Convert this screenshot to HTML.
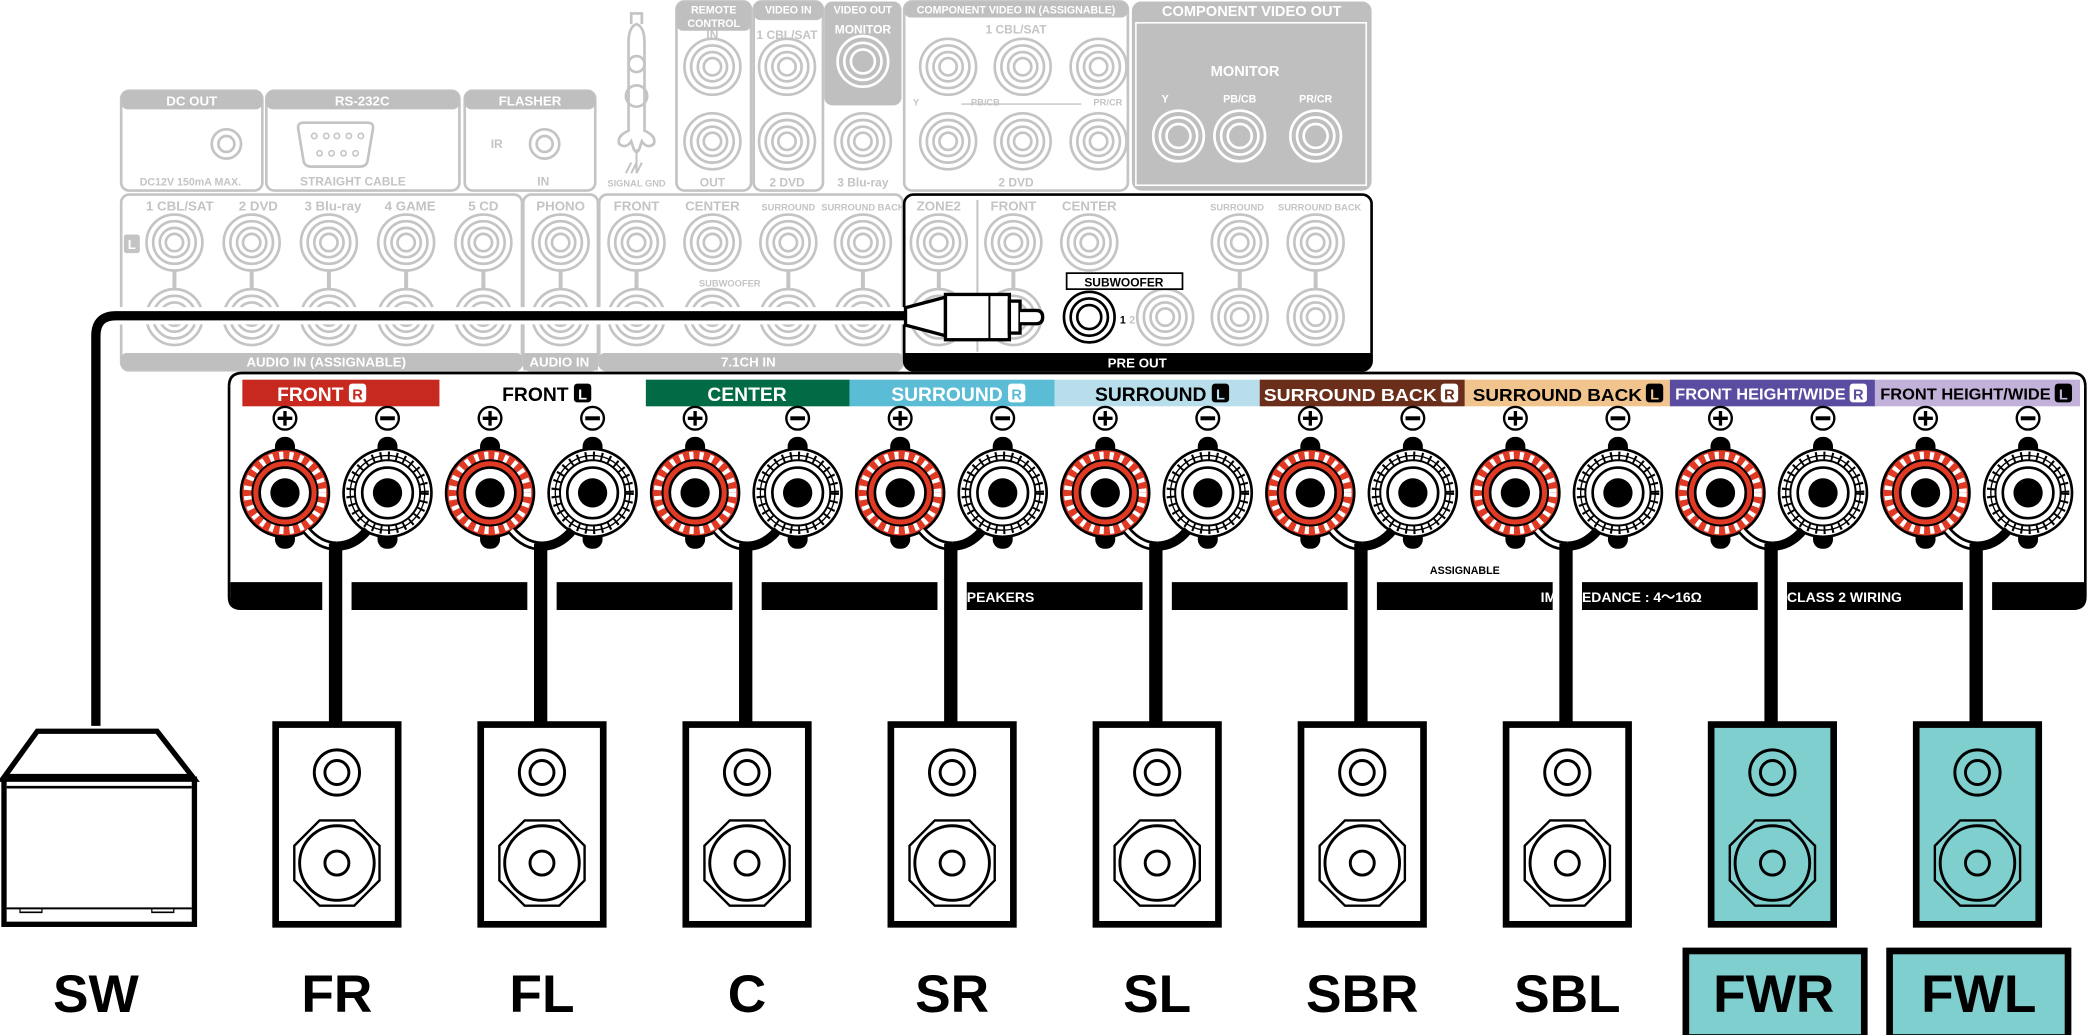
<!DOCTYPE html>
<html><head><meta charset="utf-8"><style>
html,body{margin:0;padding:0;background:#fff;}
svg{display:block;}
text{font-family:"Liberation Sans",Arial,sans-serif;font-weight:bold;}
</style></head><body>
<svg width="2088" height="1035" viewBox="0 0 1568 777" xmlns="http://www.w3.org/2000/svg">
<defs>
<g id="jk" fill="none" stroke="#c4c4c4" stroke-width="2"><circle r="21"/><circle r="16"/><circle r="11"/><circle r="6.5"/></g>
<g id="jkw" fill="none" stroke="#fff" stroke-width="2"><circle r="19"/><circle r="14"/><circle r="9"/></g>
<g id="tp">
 <rect x="-7.5" y="-42" width="15" height="20" rx="7" fill="#000"/>
 <rect x="-7.5" y="22" width="15" height="20" rx="7" fill="#000"/>
 <circle r="33" fill="#e03a25" stroke="#000" stroke-width="2"/>
 <circle r="28" fill="none" stroke="#fff" stroke-width="6" stroke-dasharray="3 4.5"/>
 <circle r="24.5" fill="none" stroke="#000" stroke-width="1.5"/>
 <circle r="19" fill="#fff" stroke="#000" stroke-width="2"/>
 <circle r="11" fill="#000"/>
 <circle cy="-56" r="8.5" fill="#fff" stroke="#000" stroke-width="1.8"/>
 <path d="M-5.5 -56H5.5M0 -61.5V-50.5" stroke="#000" stroke-width="2.5"/>
</g>
<g id="tn">
 <rect x="-7.5" y="-42" width="15" height="20" rx="7" fill="#000"/>
 <rect x="-7.5" y="22" width="15" height="20" rx="7" fill="#000"/>
 <circle r="33" fill="#fff" stroke="#000" stroke-width="2"/>
 <circle r="28" fill="none" stroke="#000" stroke-width="6" stroke-dasharray="1.5 4.5"/>
 <circle r="28" fill="none" stroke="#000" stroke-width="1"/>
 <circle r="24.5" fill="none" stroke="#000" stroke-width="1.5"/>
 <circle r="19" fill="#fff" stroke="#000" stroke-width="2"/>
 <circle r="11" fill="#000"/>
 <circle cy="-56" r="8.5" fill="#fff" stroke="#000" stroke-width="1.8"/>
 <path d="M-5.5 -56H5.5" stroke="#000" stroke-width="3"/>
</g>
<g id="pair">
 <use href="#tp" x="214" y="370"/>
 <use href="#tn" x="291" y="370"/>
 <path d="M230 398 Q240 410 253 410" fill="none" stroke="#000" stroke-width="7"/>
 <path d="M230 398 Q240 410 253 410" fill="none" stroke="#fff" stroke-width="3"/>
 <path d="M276 398 Q266 410 253 410" fill="none" stroke="#000" stroke-width="7"/>
 <rect x="247" y="408" width="10" height="136" fill="#000"/>
</g>
<g id="spk">
 <rect x="207" y="544" width="92" height="150" fill="#fff" stroke="#000" stroke-width="5"/>
 <circle cx="253" cy="580" r="17" fill="none" stroke="#000" stroke-width="2.2"/>
 <circle cx="253" cy="580" r="9" fill="none" stroke="#000" stroke-width="2.2"/>
 <path d="M240 616 H266 L285 635 V661 L266 680 H240 L221 661 V635 Z" fill="none" stroke="#000" stroke-width="1.8"/>
 <circle cx="253" cy="648" r="28" fill="none" stroke="#000" stroke-width="2.2"/>
 <circle cx="253" cy="648" r="9" fill="none" stroke="#000" stroke-width="2.2"/>
</g>
<g id="spkt">
 <rect x="207" y="544" width="92" height="150" fill="#80cfcf" stroke="#000" stroke-width="5"/>
 <circle cx="253" cy="580" r="17" fill="none" stroke="#000" stroke-width="2.2"/>
 <circle cx="253" cy="580" r="9" fill="none" stroke="#000" stroke-width="2.2"/>
 <path d="M240 616 H266 L285 635 V661 L266 680 H240 L221 661 V635 Z" fill="none" stroke="#000" stroke-width="1.8"/>
 <circle cx="253" cy="648" r="28" fill="none" stroke="#000" stroke-width="2.2"/>
 <circle cx="253" cy="648" r="9" fill="none" stroke="#000" stroke-width="2.2"/>
</g>
</defs>

<g fill="none" stroke="#c4c4c4" stroke-width="2">
 <rect x="91" y="68" width="106" height="75" rx="6"/>
 <rect x="200" y="68" width="145" height="75" rx="6"/>
 <rect x="349" y="68" width="98" height="75" rx="6"/>
 <rect x="508" y="1" width="56" height="142" rx="6"/>
 <rect x="566" y="1" width="52" height="142" rx="6"/>
 <rect x="679" y="1" width="168" height="142" rx="6"/>
 <rect x="91" y="146" width="301" height="132" rx="6"/>
 <rect x="393" y="146" width="56" height="132" rx="6"/>
 <rect x="450" y="146" width="228" height="132" rx="6"/>
</g>
<g fill="#bfbfbf">
 <rect x="91" y="68" width="106" height="14" rx="5"/>
 <rect x="200" y="68" width="145" height="14" rx="5"/>
 <rect x="349" y="68" width="98" height="14" rx="5"/>
 <rect x="508" y="1" width="56" height="22" rx="5"/>
 <rect x="566" y="1" width="52" height="14" rx="5"/>
 <rect x="619" y="1" width="58" height="78" rx="6"/>
 <rect x="679" y="1" width="168" height="12" rx="5"/>
 <rect x="850" y="1" width="180" height="142" rx="7"/>
 <rect x="91" y="265" width="301" height="13" rx="4"/>
 <rect x="393" y="265" width="56" height="13"/>
 <rect x="450" y="265" width="228" height="13" rx="4"/>
</g>
<rect x="853" y="17" width="173" height="122" fill="none" stroke="#fff" stroke-width="1.2"/>
<g fill="#fff" font-size="10" text-anchor="middle">
 <text x="144" y="79">DC OUT</text><text x="272" y="79">RS-232C</text><text x="398" y="79">FLASHER</text>
 <text x="536" y="10" font-size="8">REMOTE</text><text x="536" y="20" font-size="8">CONTROL</text>
 <text x="592" y="10" font-size="8">VIDEO IN</text>
 <text x="648" y="10" font-size="8">VIDEO OUT</text><text x="648" y="25" font-size="9">MONITOR</text>
 <text x="763" y="10" font-size="8">COMPONENT VIDEO IN (ASSIGNABLE)</text>
 <text x="940" y="12" font-size="11">COMPONENT VIDEO OUT</text>
 <text x="935" y="57" font-size="11">MONITOR</text>
 <text x="875" y="77" font-size="8">Y</text><text x="931" y="77" font-size="8">PB/CB</text><text x="988" y="77" font-size="8">PR/CR</text>
 <text x="245" y="275" font-size="10">AUDIO IN (ASSIGNABLE)</text><text x="420" y="275" font-size="10">AUDIO IN</text><text x="562" y="275" font-size="10">7.1CH IN</text>
</g>
<g fill="#c4c4c4" font-size="9" text-anchor="middle" font-weight="normal">
 <text x="143" y="139" font-size="8">DC12V 150mA MAX.</text><text x="265" y="139" font-size="9">STRAIGHT CABLE</text>
 <text x="373" y="111">IR</text><text x="408" y="139">IN</text><text x="478" y="140" font-size="7">SIGNAL GND</text>
 <text x="535" y="29">IN</text><text x="535" y="140">OUT</text><text x="591" y="29">1 CBL/SAT</text>
 <text x="591" y="140">2 DVD</text><text x="648" y="140">3 Blu-ray</text>
 <text x="763" y="25">1 CBL/SAT</text><text x="763" y="140">2 DVD</text>
 <text x="688" y="79" font-size="7">Y</text><text x="740" y="79" font-size="7">PB/CB</text><text x="832" y="79" font-size="7">PR/CR</text>
 <text x="135" y="158" font-size="10">1 CBL/SAT</text><text x="194" y="158" font-size="10">2 DVD</text><text x="250" y="158" font-size="10">3 Blu-ray</text><text x="308" y="158" font-size="10">4 GAME</text><text x="363" y="158" font-size="10">5 CD</text>
 <text x="421" y="158" font-size="10">PHONO</text><text x="478" y="158" font-size="10">FRONT</text><text x="535" y="158" font-size="10">CENTER</text><text x="592" y="158" font-size="7">SURROUND</text><text x="648" y="158" font-size="7">SURROUND BACK</text>
 <text x="548" y="215" font-size="7">SUBWOOFER</text>
 <text x="705" y="158" font-size="10">ZONE2</text><text x="761" y="158" font-size="10">FRONT</text><text x="818" y="158" font-size="10">CENTER</text><text x="929" y="158" font-size="7">SURROUND</text><text x="991" y="158" font-size="7">SURROUND BACK</text>
</g>
<rect x="93" y="176" width="12" height="14" rx="2" fill="#c4c4c4"/><text x="99" y="187" fill="#fff" font-size="10" text-anchor="middle">L</text>
<path d="M722 78 H812" stroke="#c4c4c4" stroke-width="1"/>
<circle cx="170" cy="108" r="11" fill="none" stroke="#c4c4c4" stroke-width="2"/><circle cx="170" cy="108" r="6" fill="none" stroke="#c4c4c4" stroke-width="2"/>
<circle cx="409" cy="108" r="11" fill="none" stroke="#c4c4c4" stroke-width="2"/><circle cx="409" cy="108" r="6" fill="none" stroke="#c4c4c4" stroke-width="2"/>
<path d="M228 92 H276 Q281 92 280 97 L276 121 Q275 125 270 125 H234 Q229 125 228 121 L224 97 Q223 92 228 92Z" fill="none" stroke="#c4c4c4" stroke-width="2"/>
<g fill="none" stroke="#c4c4c4" stroke-width="1.2"><circle cx="236" cy="102" r="2"/><circle cx="245" cy="102" r="2"/><circle cx="253" cy="102" r="2"/><circle cx="262" cy="102" r="2"/><circle cx="271" cy="102" r="2"/><circle cx="240" cy="115" r="2"/><circle cx="249" cy="115" r="2"/><circle cx="258" cy="115" r="2"/><circle cx="267" cy="115" r="2"/></g>
<path d="M472 32 V98 Q463 102 465 108 Q470 112 474 106 L476 112 Q478 116 480 112 L482 106 Q486 112 491 108 Q493 102 484 98 V32 Q484 20 478 18 Q472 20 472 32Z M474 18 V10 H482 V18" fill="none" stroke="#c4c4c4" stroke-width="2"/>
<circle cx="478" cy="72" r="8" fill="none" stroke="#c4c4c4" stroke-width="2"/><circle cx="478" cy="48" r="6" fill="none" stroke="#c4c4c4" stroke-width="2"/>
<path d="M478 112 V130 M470 130 L474 122 M474 130 L478 122 M478 130 L482 122" stroke="#c4c4c4" stroke-width="1.5"/>
<use href="#jk" x="535" y="50"/><use href="#jk" x="535" y="106"/>
<use href="#jk" x="591" y="50"/><use href="#jk" x="591" y="106"/><use href="#jk" x="648" y="106"/>
<use href="#jkw" x="648" y="46"/>
<use href="#jk" x="712" y="50"/><use href="#jk" x="768" y="50"/><use href="#jk" x="825" y="50"/>
<use href="#jk" x="712" y="106"/><use href="#jk" x="768" y="106"/><use href="#jk" x="825" y="106"/>
<use href="#jkw" x="885" y="102"/><use href="#jkw" x="931" y="102"/><use href="#jkw" x="988" y="102"/>
<g stroke="#c4c4c4" stroke-width="3">
 <path d="M131 203V217M189 203V217M247 203V217M305 203V217M363 203V217M421 203V217M478 203V217M592 203V217M648 203V217M705 203V217M761 203V217M931 203V217M988 203V217"/>
</g>
<use href="#jk" x="131" y="182"/><use href="#jk" x="189" y="182"/><use href="#jk" x="247" y="182"/><use href="#jk" x="305" y="182"/><use href="#jk" x="363" y="182"/>
<use href="#jk" x="421" y="182"/><use href="#jk" x="478" y="182"/><use href="#jk" x="535" y="182"/><use href="#jk" x="592" y="182"/><use href="#jk" x="648" y="182"/>
<use href="#jk" x="131" y="238"/><use href="#jk" x="189" y="238"/><use href="#jk" x="247" y="238"/><use href="#jk" x="305" y="238"/><use href="#jk" x="363" y="238"/>
<use href="#jk" x="421" y="238"/><use href="#jk" x="478" y="238"/><use href="#jk" x="535" y="238"/><use href="#jk" x="592" y="238"/><use href="#jk" x="648" y="238"/>
<use href="#jk" x="705" y="182"/><use href="#jk" x="761" y="182"/><use href="#jk" x="818" y="182"/><use href="#jk" x="931" y="182"/><use href="#jk" x="988" y="182"/>
<use href="#jk" x="705" y="238"/><use href="#jk" x="761" y="238"/><use href="#jk" x="875" y="238"/><use href="#jk" x="931" y="238"/><use href="#jk" x="988" y="238"/>
<path d="M734 150 V264" stroke="#c4c4c4" stroke-width="1.5"/>
<rect x="679" y="146" width="351" height="132" rx="7" fill="none" stroke="#000" stroke-width="2"/>
<path d="M679 265 H1030 V271 Q1030 278 1023 278 H686 Q679 278 679 271Z" fill="#000"/>
<text x="854" y="276" fill="#fff" font-size="10" text-anchor="middle">PRE OUT</text>
<rect x="801" y="205" width="87" height="12" fill="#fff" stroke="#000" stroke-width="1.3"/>
<text x="844" y="215" font-size="9" text-anchor="middle">SUBWOOFER</text>
<text x="841" y="243" font-size="8">1</text><text x="848" y="243" font-size="8" fill="#c4c4c4">2</text>
<circle cx="818" cy="238" r="19" fill="#fff" stroke="#000" stroke-width="2"/><circle cx="818" cy="238" r="14" fill="none" stroke="#000" stroke-width="2"/><circle cx="818" cy="238" r="9" fill="none" stroke="#000" stroke-width="2"/>
<path d="M72 545 V252 Q72 237 87 237 H682" fill="none" stroke="#fff" stroke-width="13"/>
<path d="M72 545 V252 Q72 237 87 237 H682" fill="none" stroke="#000" stroke-width="7"/>
<path d="M680 231 L710 223 V252 L680 244Z" fill="#fff" stroke="#000" stroke-width="2.5"/>
<rect x="710" y="221" width="48" height="34" fill="#fff" stroke="#000" stroke-width="2.5"/>
<path d="M743 221V255" stroke="#000" stroke-width="1.5"/>
<rect x="758" y="226" width="8" height="24" fill="#fff" stroke="#000" stroke-width="2.5"/>
<path d="M766 233 H778 Q783 233 783 238 Q783 243 778 243 H766" fill="#fff" stroke="#000" stroke-width="2.5"/>

<path d="M172 290 Q172 280 182 280 H1556 Q1566 280 1566 290" fill="none" stroke="#000" stroke-width="2"/>
<path d="M172 290 V448 Q172 457 181 457 H1557 Q1566 457 1566 448 V290" fill="none" stroke="#000" stroke-width="2"/>
<path d="M173 437 H1566 V448 Q1566 457 1557 457 H181 Q173 457 173 448Z" fill="#000"/>
<g fill="#fff">
 <rect x="242" y="436" width="22" height="22"/><rect x="396" y="436" width="22" height="22"/><rect x="550" y="436" width="22" height="22"/>
 <rect x="704" y="436" width="22" height="22"/><rect x="858" y="436" width="22" height="22"/><rect x="1012" y="436" width="22" height="22"/>
 <rect x="1166" y="436" width="22" height="22"/><rect x="1320" y="436" width="22" height="22"/><rect x="1474" y="436" width="22" height="22"/>
</g>
<g fill="#fff" font-size="10.5">
 <text x="726" y="452">PEAKERS</text><text x="1157" y="452">IM</text><text x="1188" y="452">EDANCE : 4～16Ω</text><text x="1342" y="452">CLASS 2 WIRING</text>
</g>
<text x="1100" y="431" font-size="8" text-anchor="middle">ASSIGNABLE</text>
<rect x="182" y="285" width="148" height="20" fill="#c8291f"/>
<rect x="485" y="285" width="153" height="20" fill="#006b45"/>
<rect x="638" y="285" width="154" height="20" fill="#5bbcd6"/>
<rect x="792" y="285" width="154" height="20" fill="#b8deeb"/>
<rect x="946" y="285" width="154" height="20" fill="#6b2e1a"/>
<rect x="1100" y="285" width="154" height="20" fill="#f0c48c"/>
<rect x="1254" y="285" width="154" height="20" fill="#5a4ca0"/>
<rect x="1408" y="285" width="154" height="20" fill="#c2b1d8"/>
<text x="561" y="301" fill="#fff" text-anchor="middle" font-size="14.5">CENTER</text>
<g font-size="14.5" text-anchor="end">
 <text x="258" y="301" fill="#fff">FRONT</text>
 <text x="427" y="301">FRONT</text>
 <text x="753" y="301" fill="#fff">SURROUND</text>
 <text x="906" y="301">SURROUND</text>
 <text x="1079" y="301" fill="#fff" font-size="13.5" textLength="130" lengthAdjust="spacingAndGlyphs">SURROUND BACK</text>
 <text x="1233" y="301" font-size="13.5" textLength="127" lengthAdjust="spacingAndGlyphs">SURROUND BACK</text>
 <text x="1386" y="300" fill="#fff" font-size="12" textLength="128" lengthAdjust="spacingAndGlyphs">FRONT HEIGHT/WIDE</text>
 <text x="1540" y="300" font-size="12" textLength="128" lengthAdjust="spacingAndGlyphs">FRONT HEIGHT/WIDE</text>
</g>
<g>
 <rect x="262" y="288" width="13" height="14" rx="2.5" fill="#fff"/><text x="268.5" y="300" font-size="11" fill="#c8291f" text-anchor="middle">R</text>
 <rect x="431" y="288" width="13" height="14" rx="2.5" fill="#000"/><text x="437.5" y="300" font-size="11" fill="#fff" text-anchor="middle">L</text>
 <rect x="757" y="288" width="13" height="14" rx="2.5" fill="#fff"/><text x="763.5" y="300" font-size="11" fill="#5bbcd6" text-anchor="middle">R</text>
 <rect x="910" y="288" width="13" height="14" rx="2.5" fill="#000"/><text x="916.5" y="300" font-size="11" fill="#b8deeb" text-anchor="middle">L</text>
 <rect x="1082" y="288" width="13" height="14" rx="2.5" fill="#fff"/><text x="1088.5" y="300" font-size="11" fill="#6b2e1a" text-anchor="middle">R</text>
 <rect x="1236" y="288" width="13" height="14" rx="2.5" fill="#000"/><text x="1242.5" y="300" font-size="11" fill="#f0c48c" text-anchor="middle">L</text>
 <rect x="1389" y="288" width="13" height="14" rx="2.5" fill="#fff"/><text x="1395.5" y="300" font-size="11" fill="#5a4ca0" text-anchor="middle">R</text>
 <rect x="1543" y="288" width="13" height="14" rx="2.5" fill="#000"/><text x="1549.5" y="300" font-size="11" fill="#c2b1d8" text-anchor="middle">L</text>
</g>
<use href="#pair"/><use href="#pair" x="154"/><use href="#pair" x="308"/><use href="#pair" x="462"/><use href="#pair" x="616"/>
<use href="#pair" x="770"/><use href="#pair" x="924"/><use href="#pair" x="1078"/><use href="#pair" x="1232"/>
<use href="#spk"/><use href="#spk" x="154"/><use href="#spk" x="308"/><use href="#spk" x="462"/><use href="#spk" x="616"/>
<use href="#spk" x="770"/><use href="#spk" x="924"/><use href="#spkt" x="1078"/><use href="#spkt" x="1232"/>
<path d="M28 549 H118 L146 585 H2 Z" fill="#fff" stroke="#000" stroke-width="4"/>
<rect x="3" y="585" width="143" height="109" fill="#fff" stroke="#000" stroke-width="4"/>
<path d="M6 582 H143" stroke="#000" stroke-width="2"/>
<path d="M5 591 H144" stroke="#000" stroke-width="2"/>
<path d="M5 682 H144" stroke="#000" stroke-width="1.5"/>
<path d="M20 682 V685 H42 V682 M152 682 V685 H174 V682" fill="none" stroke="#000" stroke-width="1.2" transform="scale(0.75,1)"/>
<g font-size="40" text-anchor="middle">
 <text x="72" y="760">SW</text><text x="253" y="760">FR</text><text x="407" y="760">FL</text><text x="561" y="760">C</text>
 <text x="715" y="760">SR</text><text x="869" y="760">SL</text><text x="1023" y="760">SBR</text><text x="1177" y="760">SBL</text>
</g>
<rect x="1266" y="714" width="134" height="65" fill="#80cfcf" stroke="#000" stroke-width="5"/>
<rect x="1419" y="714" width="134" height="65" fill="#80cfcf" stroke="#000" stroke-width="5"/>
<g font-size="40" text-anchor="middle"><text x="1332" y="760">FWR</text><text x="1486" y="760">FWL</text></g>
</svg>
</body></html>
